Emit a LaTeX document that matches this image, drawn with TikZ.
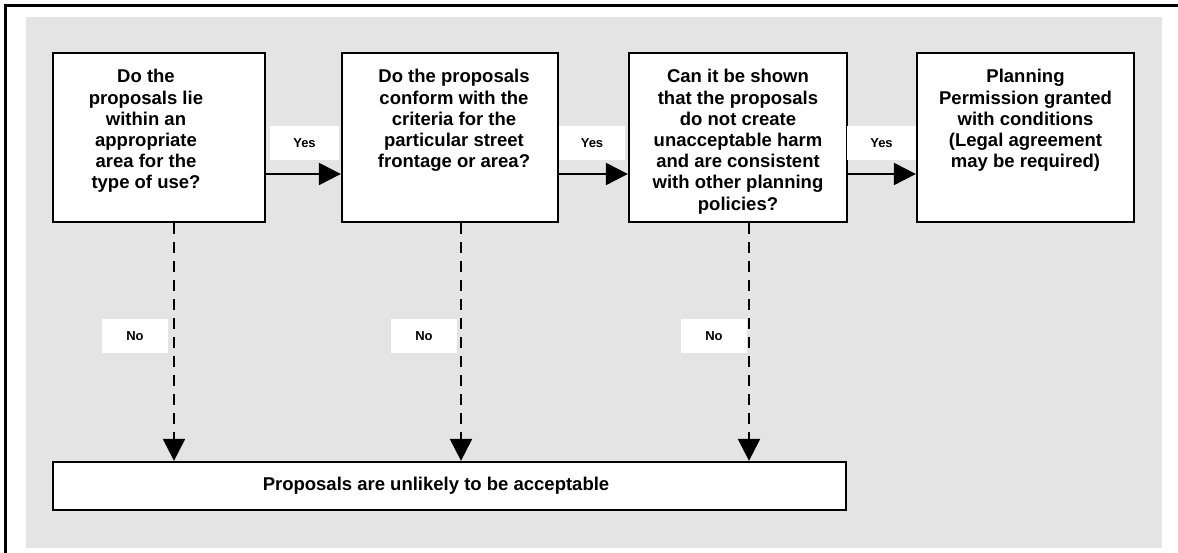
\documentclass[tikz,border=0pt]{standalone}
\usepackage{fontspec}
\setmainfont{Liberation Sans}
\usetikzlibrary{positioning,arrows.meta}
\definecolor{panel}{RGB}{228,228,228}

\begin{document}
\begin{tikzpicture}[x=1pt,y=-1pt,font=\bfseries,
box/.style={draw, line width=2.3pt, fill=white, inner sep=0pt, minimum height=169pt},
txt/.style={align=center, inner sep=0pt, anchor=north, font=\fontsize{18.5}{21.2}\selectfont\bfseries},
tag/.style={fill=white, inner sep=0pt, minimum width=67pt, minimum height=34pt, font=\fontsize{13}{15}\selectfont\bfseries},
yes/.style={line width=2.3pt, -{Triangle[length=22pt,width=22pt]}},
no/.style={yes, dash pattern=on 11pt off 8pt}]
\useasboundingbox (0,0) rectangle (1178,553);
\fill[panel] (26,17) rectangle (1162,548);
\draw[line width=2.7pt] (5.5,553) -- (5.5,5.5) -- (1178,5.5);

% question boxes
\node[box, minimum width=212pt] (q1) at (159,137.5) {};
\node[box, minimum width=216pt] (q2) at (450,137.5) {};
\node[box, minimum width=218pt] (q3) at (738,137.5) {};
\node[box, minimum width=217pt] (q4) at (1025.5,137.5) {};
\node[box, minimum width=793pt, minimum height=48pt] (reject) at (449.5,486) {};

\node[txt] (q1txt) at ([xshift=-13pt,yshift=-17.5pt]q1.north) {Do the\\proposals lie\\within an\\appropriate\\area for the\\type of use?};
\node[txt] (q2txt) at ([xshift=4pt,yshift=-17.5pt]q2.north) {Do the proposals\\conform with the\\criteria for the\\particular street\\frontage or area?};
\node[txt] (q3txt) at ([yshift=-17.5pt]q3.north) {Can it be shown\\that the proposals\\do not create\\unacceptable harm\\and are consistent\\with other planning\\policies?};
\node[txt] (q4txt) at ([yshift=-17.5pt]q4.north) {Planning\\Permission granted\\with conditions\\(Legal agreement\\may be required)};
\node[txt, anchor=base] (rejecttxt) at ([xshift=-13.5pt,yshift=-4pt]reject.center) {Proposals are unlikely to be acceptable};

% yes
\node[tag, minimum width=69pt] (yes1) at (304.5,143) {Yes};
\node[tag, minimum width=66pt] (yes2) at (592,143) {Yes};
\node[tag, minimum width=69pt] (yes3) at (881.5,143) {Yes};
\draw[yes] ([yshift=-36.5pt]q1.east) -- ([yshift=-36.5pt]q2.west);
\draw[yes] ([yshift=-36.5pt]q2.east) -- ([yshift=-36.5pt]q3.west);
\draw[yes] ([yshift=-36.5pt]q3.east) -- ([yshift=-36.5pt]q4.west);

% no
\node[tag, minimum width=66pt] (no1) at (135,336) {No};
\node[tag, minimum width=66pt] (no2) at (424,336) {No};
\node[tag, minimum width=66pt] (no3) at (714,336) {No};
\coordinate (d1) at ([xshift=15pt]q1.south);
\coordinate (d2) at ([xshift=11pt]q2.south);
\coordinate (d3) at ([xshift=11pt]q3.south);
\draw[no] (d1) -- (d1 |- reject.north);
\draw[no] (d2) -- (d2 |- reject.north);
\draw[no] (d3) -- (d3 |- reject.north);
\end{tikzpicture}
\end{document}
